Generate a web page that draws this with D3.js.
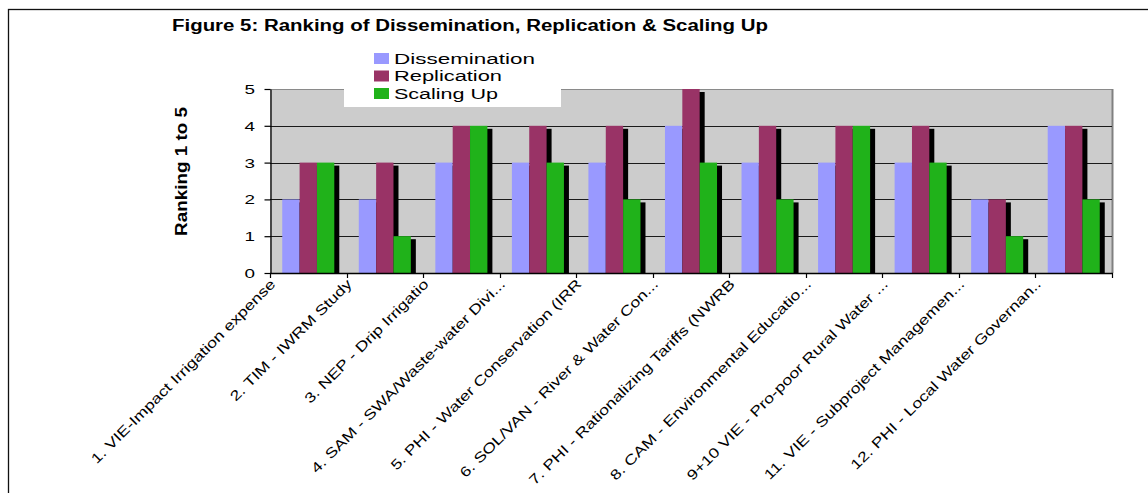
<!DOCTYPE html>
<html>
<head>
<meta charset="utf-8">
<script src="https://cdn.jsdelivr.net/npm/d3@7"></script>
<style>
  html, body { margin: 0; padding: 0; background: #fff; }
  svg { display: block; font-family: "Liberation Sans", Arial, sans-serif; }
</style>
</head>
<body>
<script>
const categories = [
  "1. VIE-Impact Irrigation expense",
  "2. TIM - IWRM Study",
  "3. NEP - Drip Irrigatio",
  "4. SAM - SWA/Waste-water Divi...",
  "5. PHI - Water Conservation (IRR",
  "6. SOL/VAN - River & Water Con...",
  "7. PHI - Rationalizing Tariffs (NWRB",
  "8. CAM - Environmental Educatio...",
  "9+10 VIE - Pro-poor Rural Water  ...",
  "11. VIE - Subproject Managemen...",
  "12. PHI - Local Water Governan.."
];
const seriesNames = ["Dissemination", "Replication", "Scaling Up"];
const dissemination = [2, 2, 3, 3, 3, 4, 3, 3, 3, 2, 4];
const replication   = [3, 3, 4, 4, 4, 5, 4, 4, 4, 2, 4];
const scalingUp     = [3, 1, 4, 3, 2, 3, 2, 4, 3, 1, 2];
const yTicks = [0, 1, 2, 3, 4, 5];
const titleText = "Figure 5: Ranking of Dissemination, Replication & Scaling Up";
const yAxisTitle = "Ranking 1 to 5";

const colors = ["#9999ff", "#993366", "#20b21a"];
const seriesValues = [dissemination, replication, scalingUp];

const W = 1148, H = 493;
const plot = { left: 270, right: 1112, top: 89, bottom: 273 };

const svg = d3.select("body").append("svg").attr("width", W).attr("height", H);

// outer frame
svg.append("rect").attr("x", 8.5).attr("y", 9.5).attr("width", W + 10).attr("height", H + 10)
  .attr("fill", "none").attr("stroke", "#111").attr("stroke-width", 1.3);

const x0 = d3.scaleBand().domain(categories).range([plot.left, plot.right])
  .paddingInner(0.32).paddingOuter(0.16);
const x1 = d3.scaleBand().domain(seriesNames).range([0, x0.bandwidth()]);
const y = d3.scaleLinear().domain([0, 5]).range([plot.bottom, plot.top]);

// plot background
svg.append("rect").attr("x", plot.left).attr("y", plot.top)
  .attr("width", plot.right - plot.left).attr("height", plot.bottom - plot.top)
  .attr("fill", "#cccccc");
svg.append("line").attr("x1", plot.left).attr("x2", plot.right).attr("y1", plot.top + 0.5).attr("y2", plot.top + 0.5)
  .attr("stroke", "#8a8a8a").attr("stroke-width", 1.2);
svg.append("line").attr("x1", plot.right + 0.5).attr("x2", plot.right + 0.5).attr("y1", plot.top).attr("y2", plot.bottom)
  .attr("stroke", "#808080").attr("stroke-width", 2);

// gridlines
svg.append("g").selectAll("line").data(yTicks.filter(t => t > 0 && t < 5)).join("line")
  .attr("x1", plot.left).attr("x2", plot.right)
  .attr("y1", d => Math.round(y(d)) + 0.5).attr("y2", d => Math.round(y(d)) + 0.5)
  .attr("stroke", "#1a1a1a").attr("stroke-width", 1);

// clip
svg.append("clipPath").attr("id", "plotclip").append("rect")
  .attr("x", plot.left).attr("y", plot.top - 2)
  .attr("width", plot.right - plot.left).attr("height", plot.bottom - plot.top + 2);

// bars with shadows
const groups = svg.append("g").attr("clip-path", "url(#plotclip)")
  .selectAll("g.cat").data(categories).join("g").attr("class", "cat")
  .attr("transform", d => `translate(${x0(d)},0)`);

const items = groups.selectAll("g.item")
  .data((c, i) => seriesNames.map((s, j) => ({ s, j, v: seriesValues[j][i] })))
  .join("g").attr("class", "item");

const shadowDx = 5, shadowDy = 3;
items.append("rect")
  .attr("x", d => x1(d.s) + shadowDx)
  .attr("y", d => y(d.v) + shadowDy)
  .attr("width", x1.bandwidth())
  .attr("height", d => plot.bottom - y(d.v))
  .attr("fill", "#000");
items.append("rect")
  .attr("x", d => x1(d.s))
  .attr("y", d => y(d.v))
  .attr("width", x1.bandwidth())
  .attr("height", d => plot.bottom - y(d.v))
  .attr("fill", d => colors[d.j]);

// y axis
const yAxis = svg.append("g").attr("transform", `translate(${plot.left + 0.5},0)`)
  .call(d3.axisLeft(y).tickValues(yTicks).tickSize(6).tickSizeOuter(0).tickFormat(""));
yAxis.select(".domain").attr("stroke", "#000").attr("stroke-width", 1.3);
yAxis.selectAll(".tick line").attr("stroke", "#000").attr("stroke-width", 1.2);

const yLab = svg.append("g").selectAll("text").data(yTicks).join("text")
  .attr("x", 255).attr("y", d => y(d) + 5)
  .attr("text-anchor", "end").attr("font-size", "13px").attr("fill", "#000")
  .text(d => d);
yLab.each(function () {
  const n = this.getComputedTextLength();
  d3.select(this).attr("textLength", n * 1.45).attr("lengthAdjust", "spacingAndGlyphs");
});

// x axis
svg.append("line").attr("x1", plot.left).attr("x2", plot.right + 1)
  .attr("y1", plot.bottom + 0.5).attr("y2", plot.bottom + 0.5)
  .attr("stroke", "#000").attr("stroke-width", 1.3);
const boundaries = d3.range(categories.length + 1).map(i => plot.left + i * x0.step());
svg.append("g").selectAll("line").data(boundaries).join("line")
  .attr("x1", d => Math.round(d) + 0.5).attr("x2", d => Math.round(d) + 0.5)
  .attr("y1", plot.bottom).attr("y2", plot.bottom + 5)
  .attr("stroke", "#000").attr("stroke-width", 1.2);

// x labels
const xl = svg.append("g").selectAll("text").data(categories).join("text")
  .attr("transform", d => `translate(${x0(d) + x0.bandwidth() / 2 - 32},285) rotate(-45)`)
  .attr("text-anchor", "end").attr("font-size", "14px").attr("fill", "#000")
  .text(d => d);
xl.each(function () {
  const n = this.getComputedTextLength();
  d3.select(this).attr("textLength", n * 1.27).attr("lengthAdjust", "spacingAndGlyphs");
});

// y axis title
svg.append("text")
  .attr("transform", "translate(186.5,171.5) rotate(-90)")
  .attr("text-anchor", "middle").attr("font-size", "17px").attr("font-weight", "bold")
  .attr("textLength", 129).attr("lengthAdjust", "spacingAndGlyphs")
  .text(yAxisTitle);

// title
svg.append("text").attr("x", 172).attr("y", 31)
  .attr("font-size", "16px").attr("font-weight", "bold")
  .attr("textLength", 596).attr("lengthAdjust", "spacingAndGlyphs")
  .text(titleText);

// legend
const legend = svg.append("g");
legend.append("rect").attr("x", 344).attr("y", 46).attr("width", 217).attr("height", 61).attr("fill", "#fff");
const legendLengths = [141, 108, 104];
const li = legend.selectAll("g").data(seriesNames).join("g")
  .attr("transform", (d, i) => `translate(374,${53 + i * 17.5})`);
li.append("rect").attr("width", 15).attr("height", 11).attr("fill", (d, i) => colors[i]);
li.append("text").attr("x", 20).attr("y", 10.5).attr("font-size", "15.5px")
  .attr("textLength", (d, i) => legendLengths[i]).attr("lengthAdjust", "spacingAndGlyphs")
  .text(d => d);
</script>
</body>
</html>
